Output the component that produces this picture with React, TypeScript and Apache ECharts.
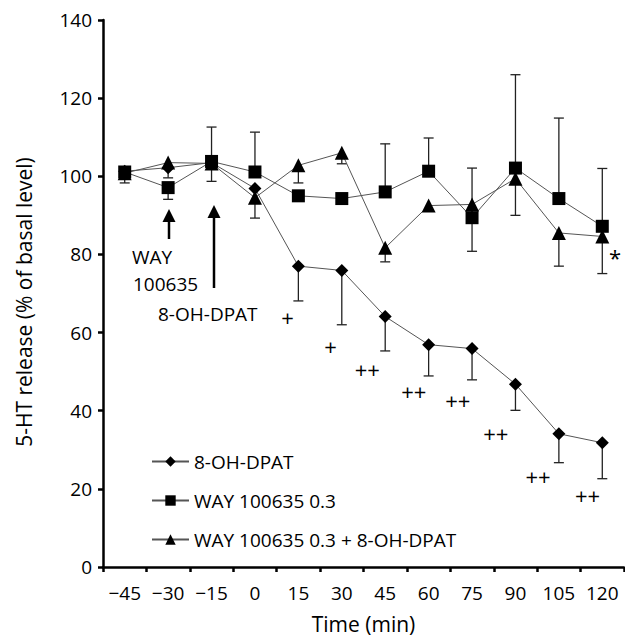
import React, { useEffect, useRef } from "react";
import * as echarts from "echarts";

// ---- data ----
const timeLabels = ["−45", "−30", "−15", "0", "15", "30", "45", "60", "75", "90", "105", "120"];
const times = [-45, -30, -15, 0, 15, 30, 45, 60, 75, 90, 105, 120];

const dpatName = "8-OH-DPAT";
const dpatMean = [101.3, 102.2, 103.5, 96.9, 77.0, 75.9, 64.1, 56.9, 55.9, 46.8, 34.1, 31.8];
const dpatErrUp = [0, 0, 0, 0, 0, 0, 0, 0, 0, 0, 0, 0];
const dpatErrDown = [0, 0, 4.8, 7.6, 8.9, 13.9, 8.8, 8.0, 8.0, 6.7, 7.4, 9.2];

const wayName = "WAY 100635 0.3";
const wayMean = [101.1, 97.1, 103.8, 101.1, 95.0, 94.3, 96.0, 101.3, 89.4, 102.1, 94.3, 87.2];
const wayErrUp = [0, 0, 8.8, 10.2, 0, 0, 12.3, 8.5, 12.7, 23.9, 20.6, 14.8];
const wayErrDown = [2.8, 3.0, 0, 0, 0, 0, 0, 0, 0, 0, 0, 0];

const comboName = "WAY 100635 0.3 + 8-OH-DPAT";
const comboMean = [100.8, 103.5, 103.3, 94.5, 102.8, 106.0, 81.7, 92.5, 92.8, 99.4, 85.5, 84.6];
const comboErrUp = [0, 0, 0, 0, 0, 0, 0, 0, 0, 0, 0, 0];
const comboErrDown = [0, 3.9, 0, 0, 4.5, 2.8, 3.6, 1.4, 12.0, 9.4, 8.5, 9.5];

// significance marks (time in min, value in %)
const sigText = ["+", "+", "++", "++", "++", "++", "++", "++", "*"];
const sigTime = [11.3, 26.1, 38.8, 54.9, 70.1, 83.2, 97.8, 114.9, 124.4];
const sigValue = [63.9, 56.6, 50.8, 45.1, 42.8, 34.3, 23.2, 18.4, 79.3];

const yTicks = { min: 0, max: 140, interval: 20 };

const FONT = "Open Sans";
const WEIGHT = 500;

function errorSeries(means: number[], up: number[], down: number[]) {
  const data = times.map((t, i) => [t, means[i], up[i], down[i]]);
  const st = { stroke: "#222", lineWidth: 1.3 };
  return {
    type: "custom",
    xAxisIndex: 1,
    yAxisIndex: 0,
    z: 1,
    silent: true,
    encode: { x: 0, y: 1 },
    data,
    renderItem: (params: any, api: any) => {
      const t = api.value(0);
      const m = api.value(1);
      const u = api.value(2);
      const d = api.value(3);
      const p = api.coord([t, m]);
      const children: any[] = [];
      const cap = 5;
      const add = (v: number) => {
        const q = api.coord([t, v]);
        children.push({ type: "line", shape: { x1: p[0], y1: p[1], x2: q[0], y2: q[1] }, style: st });
        children.push({ type: "line", shape: { x1: q[0] - cap, y1: q[1], x2: q[0] + cap, y2: q[1] }, style: st });
      };
      if (u > 0) add(m + u);
      if (d > 0) add(m - d);
      return { type: "group", children };
    },
  };
}

function lineSeries(name: string, means: number[], symbol: string, size: number) {
  return {
    name,
    type: "line",
    xAxisIndex: 1,
    yAxisIndex: 0,
    z: 3,
    symbol,
    symbolSize: size,
    data: times.map((t, i) => [t, means[i]]),
    itemStyle: { color: "#000" },
    lineStyle: { color: "#555", width: 1 },
  };
}

export default function App() {
  const ref = useRef<HTMLDivElement>(null);
  useEffect(() => {
    if (!ref.current) return;
    const chart = echarts.init(ref.current, undefined, { renderer: "svg" });
    const txt = { fontFamily: FONT, fontSize: 19, fontWeight: WEIGHT, fill: "#000" };
    const lbl = { fontFamily: FONT, fontSize: 19, fontWeight: WEIGHT, color: "#000" };
    chart.setOption({
      animation: false,
      backgroundColor: "#fff",
      textStyle: { fontFamily: FONT },
      grid: { left: 103, right: 1, top: 20, bottom: 67, containLabel: false },
      xAxis: [
        {
          type: "category",
          data: timeLabels,
          boundaryGap: true,
          name: "Time (min)",
          nameLocation: "middle",
          nameGap: 46,
          nameTextStyle: { ...lbl, fontSize: 21 },
          axisLine: { onZero: false, lineStyle: { color: "#000", width: 2.5 } },
          axisTick: { show: true, length: 5, lineStyle: { color: "#000", width: 2.5 } },
          axisLabel: { ...lbl, margin: 16, interval: 0 },
          splitLine: { show: false },
        },
        {
          type: "value",
          min: -52.5,
          max: 127.5,
          show: false,
          splitLine: { show: false },
        },
      ],
      yAxis: {
        type: "value",
        min: yTicks.min,
        max: yTicks.max,
        interval: yTicks.interval,
        axisLine: { show: true, onZero: false, lineStyle: { color: "#000", width: 2.5 } },
        axisTick: { show: true, length: 5, lineStyle: { color: "#000", width: 2.5 } },
        axisLabel: { ...lbl, margin: 11 },
        splitLine: { show: false },
      },
      legend: {
        orient: "vertical",
        left: 151,
        top: 452,
        padding: 0,
        itemWidth: 37,
        itemHeight: 13,
        itemGap: 20,
        data: [dpatName, wayName, comboName],
        textStyle: lbl,
        selectedMode: false,
      },
      graphic: [
        { type: "text", x: 24, y: 302, rotation: Math.PI / 2, style: { ...txt, fontSize: 21, text: "5-HT release (% of basal level)", align: "center", verticalAlign: "middle" } },
        { type: "text", x: 132, y: 257, style: { ...txt, text: "WAY", align: "left", verticalAlign: "middle" } },
        { type: "text", x: 133, y: 284, style: { ...txt, text: "100635", align: "left", verticalAlign: "middle" } },
        { type: "text", x: 158, y: 314, style: { ...txt, text: "8-OH-DPAT", align: "left", verticalAlign: "middle" } },
        { type: "line", shape: { x1: 169, y1: 220, x2: 169, y2: 239 }, style: { stroke: "#000", lineWidth: 2.5 } },
        { type: "polygon", shape: { points: [[169, 209], [162.5, 222], [175.5, 222]] }, style: { fill: "#000" } },
        { type: "line", shape: { x1: 214, y1: 216, x2: 214, y2: 288 }, style: { stroke: "#000", lineWidth: 2.5 } },
        { type: "polygon", shape: { points: [[214, 205], [207.5, 218], [220.5, 218]] }, style: { fill: "#000" } },
      ],
      series: [
        errorSeries(dpatMean, dpatErrUp, dpatErrDown),
        errorSeries(wayMean, wayErrUp, wayErrDown),
        errorSeries(comboMean, comboErrUp, comboErrDown),
        lineSeries(dpatName, dpatMean, "diamond", 13),
        lineSeries(wayName, wayMean, "rect", 13),
        lineSeries(comboName, comboMean, "triangle", 14),
        {
          type: "custom",
          xAxisIndex: 1,
          yAxisIndex: 0,
          z: 4,
          silent: true,
          encode: { x: 0, y: 1 },
          data: sigTime.map((t, i) => [t, sigValue[i], i]),
          renderItem: (params: any, api: any) => {
            const p = api.coord([api.value(0), api.value(1)]);
            const idx = api.value(2);
            return {
              type: "text",
              x: p[0],
              y: p[1],
              style: { text: sigText[idx], fontFamily: FONT, fontSize: 22, fontWeight: WEIGHT, fill: "#000", align: "center", verticalAlign: "middle" },
            };
          },
        },
      ],
    });
    return () => chart.dispose();
  }, []);
  return <div ref={ref} style={{ position: "fixed", left: 0, top: 0, width: 625, height: 639 }} />;
}
